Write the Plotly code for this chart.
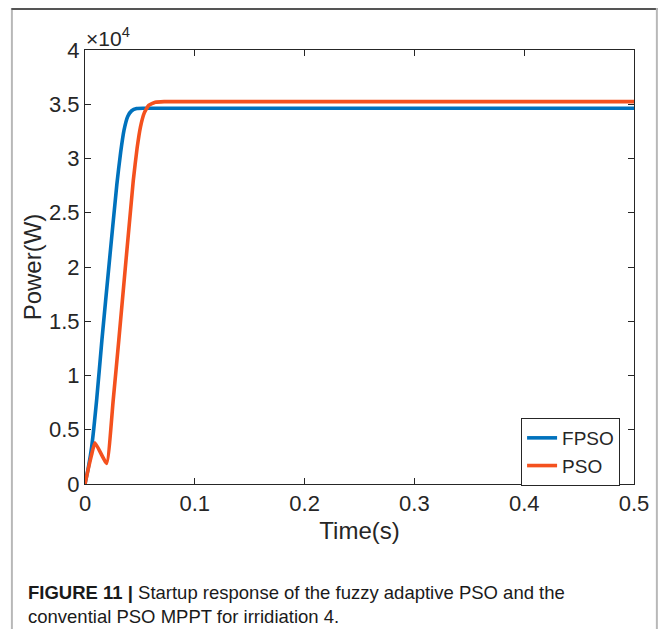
import plotly.graph_objects as go

# FPSO (blue) startup response
fpso_t = [0, 0.003, 0.0061, 0.0106, 0.0154, 0.022, 0.029, 0.0325, 0.0355, 0.039, 0.0425, 0.047, 0.055, 0.5]
fpso_p = [0, 1500, 3440, 7740, 13270, 20300, 27600, 30600, 32600, 33900, 34400, 34600, 34630, 34630]

# PSO (orange) startup response
pso_t = [0, 0.003, 0.006, 0.0091, 0.0197, 0.0257, 0.0308, 0.044, 0.0475, 0.0505, 0.054, 0.058, 0.064, 0.072, 0.5]
pso_p = [0, 1400, 2700, 3800, 1900, 7740, 13270, 28000, 31000, 32900, 34200, 34900, 35180, 35240, 35240]

x_ticks = [0, 0.1, 0.2, 0.3, 0.4, 0.5]
x_tick_labels = ["0", "0.1", "0.2", "0.3", "0.4", "0.5"]
y_ticks = [0, 5000, 10000, 15000, 20000, 25000, 30000, 35000, 40000]
y_tick_labels = ["0", "0.5", "1", "1.5", "2", "2.5", "3", "3.5", "4"]

# page body has an 8px margin; figure coordinates = screen - 8
OFF = 8
W, H = 653, 621
L, R, T, B = 85, 637, 50, 484  # screen coordinates of plot area

def px(x):
    return (x - L) / (R - L)

def py(y):
    return (B - y) / (B - T)

fig = go.Figure()
fig.add_trace(go.Scatter(x=fpso_t, y=fpso_p, mode="lines", name="FPSO",
                         line=dict(color="#0072BD", width=3.6, shape="spline", smoothing=0.6)))
fig.add_trace(go.Scatter(x=pso_t, y=pso_p, mode="lines", name="PSO",
                         line=dict(color="#F4511E", width=3.6, shape="spline", smoothing=0.4)))

font = "Liberation Sans, Arial, sans-serif"
axis_common = dict(showgrid=False, zeroline=False, showline=True, linecolor="#262626",
                   linewidth=1, mirror="ticks", ticks="inside", ticklen=6,
                   tickcolor="#262626", tickfont=dict(family=font, size=22, color="#262626"))

fig.update_xaxes(range=[0, 0.5], tickvals=x_ticks, ticktext=x_tick_labels,
                 title=dict(text="Time(s)", font=dict(family=font, size=24, color="#262626"), standoff=6),
                 **axis_common)
fig.update_yaxes(range=[0, 40000], tickvals=y_ticks, ticktext=y_tick_labels,
                 title=dict(text="Power(W)", font=dict(family=font, size=24, color="#262626"), standoff=0),
                 **axis_common)

fig.update_layout(
    width=W, height=H,
    margin=dict(l=L - OFF, r=W - (R - OFF), t=T - OFF, b=H - (B - OFF)),
    plot_bgcolor="white", paper_bgcolor="white",
    showlegend=True,
    legend=dict(x=px(623), y=py(418), xanchor="right", yanchor="top",
                bgcolor="white", bordercolor="#262626", borderwidth=1,
                font=dict(family=font, size=19, color="#262626"),
                tracegroupgap=0),
    shapes=[
        dict(type="line", xref="paper", yref="paper", x0=px(11.5), x1=px(11.5), y0=py(8), y1=py(660),
             line=dict(color="#b8b8b8", width=2)),
        dict(type="line", xref="paper", yref="paper", x0=px(11), x1=px(661), y0=py(9), y1=py(9),
             line=dict(color="#555555", width=2)),
        dict(type="line", xref="paper", yref="paper", x0=px(660), x1=px(660), y0=py(8), y1=py(660),
             line=dict(color="#b8b8b8", width=2)),
    ],
    annotations=[
        dict(text="×10<sup>4</sup>", xref="paper", yref="paper", x=px(84), y=py(52),
             xanchor="left", yanchor="bottom", showarrow=False,
             font=dict(family=font, size=21, color="#262626")),
        dict(text="<b>FIGURE 11 |</b> Startup response of the fuzzy adaptive PSO and the",
             xref="paper", yref="paper", x=px(26), y=py(592), xanchor="left", yanchor="middle",
             showarrow=False, font=dict(family=font, size=18.5, color="#1a1a1a")),
        dict(text="convential PSO MPPT for irridiation 4.",
             xref="paper", yref="paper", x=px(26), y=py(616), xanchor="left", yanchor="middle",
             showarrow=False, font=dict(family=font, size=18.5, color="#1a1a1a")),
    ],
)

fig.write_html("out.html")
